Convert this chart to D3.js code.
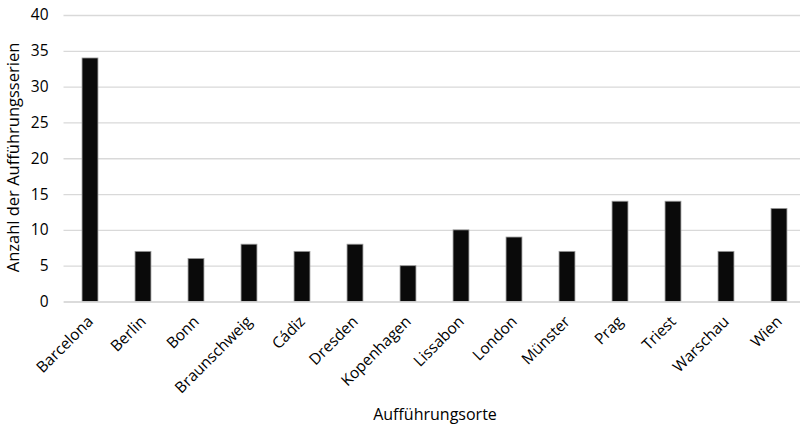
<!DOCTYPE html>
<html><head><meta charset="utf-8">
<script src="https://cdn.jsdelivr.net/npm/d3@7"></script>
<style>
body{margin:0;background:#fff;}
text{font-family:"Open Sans","Noto Sans",sans-serif;fill:#000;}
</style></head>
<body>
<svg id="chart" width="800" height="428"></svg>
<script>
const categories = ["Barcelona","Berlin","Bonn","Braunschweig","Cádiz","Dresden","Kopenhagen","Lissabon","London","Münster","Prag","Triest","Warschau","Wien"];
const values = [34,7,6,8,7,8,5,10,9,7,14,14,7,13];
const yTicks = [0,5,10,15,20,25,30,35,40];
const yTitle = "Anzahl der Aufführungsserien";
const xTitle = "Aufführungsorte";

(function(){
const svg = d3.select("#chart");
const mL = 63.5, mR = 805.5, mT = 15, mB = 301.5;
const x = d3.scaleBand().domain(categories).range([mL, mR]).paddingInner(0.7).paddingOuter(0.35);
const y = d3.scaleLinear().domain([0,40]).range([mB, mT]);

// gridlines
const yAxis = d3.axisLeft(y).tickValues(yTicks).tickSize(-(mR-mL)).tickPadding(15);
const gy = svg.append("g").attr("transform",`translate(${mL},0)`).call(yAxis);
gy.select(".domain").remove();
gy.selectAll(".tick line").attr("stroke","#d9d9d9").attr("stroke-width",1.3);
gy.selectAll(".tick text").style("font-size","15.5px").attr("fill","#000");

// bars
svg.append("g").selectAll("rect").data(values).join("rect")
  .attr("x",(d,i)=>x(categories[i]))
  .attr("y",d=>y(d))
  .attr("width",x.bandwidth())
  .attr("height",d=>y(0)-y(d))
  .attr("fill","#0a0a0a")
  .attr("stroke","#9a9a9a")
  .attr("stroke-width",0.8);

// x axis
const xAxis = d3.axisBottom(x).tickSize(0).tickPadding(0);
const gx = svg.append("g").attr("transform",`translate(0,${mB})`).call(xAxis);
gx.select(".domain").attr("stroke","#d9d9d9").attr("stroke-width",1.3);
gx.selectAll(".tick text")
  .style("font-size","15.5px")
  .attr("text-anchor","end")
  .attr("dy","0")
  .attr("y",0)
  .attr("transform","translate(4,21) rotate(-45)");

// titles
svg.append("text").attr("transform",`translate(19,157.5) rotate(-90)`)
  .attr("text-anchor","middle").style("font-size","16.5px").text(yTitle);
svg.append("text").attr("x",435).attr("y",420)
  .attr("text-anchor","middle").style("font-size","16px").text(xTitle);
})();
</script>
</body></html>
